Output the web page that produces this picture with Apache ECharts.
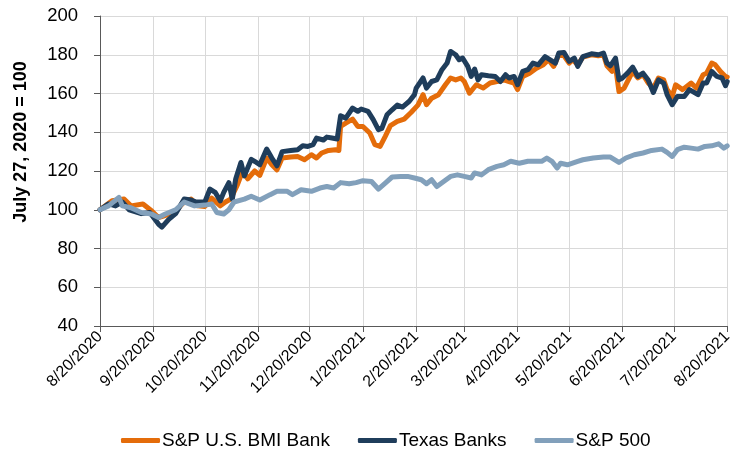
<!DOCTYPE html>
<html>
<head>
<meta charset="utf-8">
<script src="https://cdn.jsdelivr.net/npm/echarts@6/dist/echarts.min.js"></script>
<style>
  html, body { margin: 0; padding: 0; background: #fff; }
  #chart { width: 735px; height: 461px; }
</style>
</head>
<body>
<div id="chart"></div>
<script>
// days counted from 8/20/2020, values indexed to 100
const bankDays = [0, 7, 14, 18, 25, 30, 34, 38, 44, 49, 53, 57, 61, 65, 70, 73, 76, 80, 83, 86, 90, 93, 97, 100, 103, 106, 111, 115, 119, 123, 126, 129, 133, 137, 139, 140, 143, 147, 150, 153, 157, 160, 163, 166, 169, 173, 177, 181, 182, 185, 188, 190, 193, 197, 201, 204, 207, 210, 212, 215, 216, 219, 223, 227, 231, 235, 238, 241, 243, 246, 250, 254, 258, 261, 264, 267, 270, 273, 275, 278, 281, 286, 290, 293, 295, 298, 300, 302, 305, 308, 310, 313, 316, 319, 322, 325, 328, 330, 333, 335, 339, 344, 347, 351, 353, 356, 358, 361, 364, 365];
const bankVals = [100, 104.6, 105.5, 102, 103, 99.5, 96, 97, 99.5, 104, 105.5, 102, 101.7, 106, 102, 104, 105.5, 113, 120, 116, 120, 117.7, 126.7, 123.2, 120.6, 126.7, 127.2, 127.5, 125.8, 128.4, 126.7, 129.3, 130.6, 131, 130.6, 143, 144.7, 146.8, 143, 143, 139.6, 133.6, 132.7, 137.9, 143.4, 145.6, 146.8, 150.2, 150.8, 154, 159.4, 154.2, 157.6, 159.4, 164.5, 168, 167, 168, 166.2, 160.2, 159.4, 164.5, 162.8, 165.4, 166.2, 167, 166.2, 165.4, 162, 168.8, 170.5, 173, 174.8, 177.4, 174, 180, 179.5, 175.7, 177.4, 174.8, 178.8, 180, 179.5, 180, 174.3, 171.4, 174, 161, 162.8, 168, 171.4, 168, 169.7, 165.4, 162.8, 168, 167, 162, 158.5, 164.5, 162, 165.4, 162.8, 169.7, 170.5, 175.7, 174.8, 171.4, 168.8, 168.5];

const texasDays = [0, 5, 9, 13, 17, 24, 29, 34, 36, 40, 44, 49, 53, 56, 61, 64, 67, 70, 72, 75, 77, 79, 82, 84, 88, 91, 93, 97, 100, 103, 106, 111, 115, 118, 121, 124, 126, 130, 132, 135, 138, 140, 143, 147, 150, 152, 156, 159, 162, 164, 167, 170, 173, 176, 180, 183, 184, 188, 190, 193, 196, 199, 202, 204, 207, 209, 211, 214, 216, 218, 220, 222, 226, 230, 233, 236, 238, 241, 243, 246, 249, 252, 255, 259, 262, 265, 267, 270, 273, 276, 278, 281, 286, 290, 293, 295, 297, 300, 302, 304, 307, 310, 313, 316, 319, 322, 325, 328, 330, 333, 336, 340, 343, 345, 348, 351, 353, 356, 359, 362, 364, 365];
const texasVals = [100, 103, 102, 104, 100, 98, 98.6, 92.6, 91, 95, 98, 105.5, 105, 104, 104, 110.7, 109, 104.6, 109, 114, 105.5, 116, 124.4, 117.5, 126, 124.4, 123.2, 131.3, 126.7, 122.7, 130, 130.6, 131, 133, 132.7, 133.6, 137, 136, 137.5, 137, 136.5, 148.5, 147.3, 152.5, 150.8, 152, 150.8, 146.5, 141.3, 142, 149, 151.6, 154, 153, 156, 159.4, 162.8, 168, 162.8, 166.2, 167, 172.3, 175.7, 181.7, 180, 177.4, 178.3, 174, 168.8, 172.6, 167, 169.7, 169.2, 168.8, 166.2, 169.7, 168, 168.8, 164.5, 171.4, 172.3, 175.7, 174.8, 179, 177.4, 175.7, 180.9, 181.2, 176.6, 178.3, 174, 179, 180.5, 180, 180.9, 175.7, 174.3, 178.3, 167, 168, 170.5, 173.6, 168.8, 170.5, 167, 160.5, 167, 165.4, 159.4, 154.2, 158.5, 158.5, 162, 161, 159.4, 165.4, 165.4, 171.4, 168.8, 168, 164, 166.2];

const spxDays = [0, 5, 11, 13, 18, 24, 30, 34, 38, 44, 49, 55, 61, 65, 68, 72, 75, 78, 84, 88, 93, 99, 103, 109, 112, 117, 123, 128, 132, 136, 140, 145, 149, 153, 158, 162, 166, 170, 175, 179, 183, 187, 190, 193, 196, 200, 204, 208, 212, 216, 218, 222, 226, 231, 235, 239, 244, 249, 254, 257, 260, 263, 266, 268, 272, 278, 281, 287, 293, 297, 302, 306, 311, 316, 321, 327, 330, 333, 336, 340, 344, 348, 352, 356, 360, 363, 365];
const spxVals = [100, 102, 106.4, 102, 101, 98.6, 97.8, 96, 97.8, 100, 104, 102, 102.4, 103, 98.6, 97.8, 100, 104, 105.5, 107, 105, 107.8, 109.5, 109.5, 107.8, 110.3, 109.5, 111.2, 112, 111.2, 114, 113.4, 114, 115, 114.6, 110.7, 113.8, 116.9, 117.2, 117.2, 116.4, 115.5, 113.4, 115.5, 112, 114.6, 117.2, 118, 117.2, 116.4, 119, 118, 120.7, 122.4, 123.2, 125, 124, 125, 125, 125, 126.7, 125, 121.5, 124, 123.2, 125, 125.8, 126.7, 127.2, 127.2, 124.4, 126.7, 128.4, 129.3, 130.6, 131.3, 129.6, 127.5, 131, 132.3, 131.8, 131.3, 132.7, 133, 134, 131.8, 133];

const tickLabels = ['8/20/2020', '9/20/2020', '10/20/2020', '11/20/2020', '12/20/2020', '1/20/2021', '2/20/2021', '3/20/2021', '4/20/2021', '5/20/2021', '6/20/2021', '7/20/2021', '8/20/2021'];
const seriesNames = ['S&P U.S. BMI Bank', 'Texas Banks', 'S&P 500'];
const colors = ['#E46C0A', '#1F3D5B', '#82A0BB'];

const DAY = 86400000;
function parseDate(s) {
    const p = s.split('/').map(Number);
    return Date.UTC(p[2], p[0] - 1, p[1]);
}
const start = parseDate(tickLabels[0]);
function toPoints(days, vals) {
    return days.map((d, i) => [start + d * DAY, vals[i]]);
}
function fmt(v) {
    const d = new Date(v);
    return (d.getUTCMonth() + 1) + '/' + d.getUTCDate() + '/' + d.getUTCFullYear();
}

const tickTimes = tickLabels.map(parseDate);
const font = 'Liberation Sans, Arial, sans-serif';

const chart = echarts.init(document.getElementById('chart'));
const lines = [[bankDays, bankVals], [texasDays, texasVals], [spxDays, spxVals]];

chart.setOption({
    animation: false,
    color: colors,
    grid: { left: 100, right: 5, top: 16, bottom: 135, containLabel: false },
    legend: {
        top: 426,
        left: 116,
        icon: 'roundRect',
        itemWidth: 39,
        itemHeight: 5,
        itemGap: 28,
        textStyle: { fontFamily: font, fontSize: 19, color: '#000', padding: [0, 0, 0, -3] },
        data: seriesNames
    },
    xAxis: {
        type: 'value',
        min: tickTimes[0],
        max: tickTimes[tickTimes.length - 1],
        axisLine: { show: true, lineStyle: { color: '#595959', width: 1 } },
        axisTick: { show: true, length: 6, customValues: tickTimes, lineStyle: { color: '#595959' } },
        axisLabel: {
            customValues: tickTimes,
            rotate: 45,
            margin: 8,
            formatter: fmt,
            fontFamily: font,
            fontSize: 16,
            color: '#000'
        },
        splitLine: { show: true, lineStyle: { color: '#D9D9D9', width: 1 } }
    },
    yAxis: {
        type: 'value',
        min: 40,
        max: 200,
        interval: 20,
        name: 'July 27, 2020 = 100',
        nameLocation: 'middle',
        nameGap: 70,
        nameTextStyle: { fontFamily: font, fontSize: 18, fontWeight: 'bold', color: '#000', padding: [0, 0, 0, 58] },
        axisLine: { show: true, lineStyle: { color: '#595959', width: 1 } },
        axisTick: { show: true, length: 6, lineStyle: { color: '#595959' } },
        axisLabel: { fontFamily: font, fontSize: 18.5, color: '#000', margin: 22 },
        splitLine: { show: true, lineStyle: { color: '#D9D9D9', width: 1 } }
    },
    series: lines.map((l, i) => ({
        name: seriesNames[i],
        type: 'line',
        data: toPoints(l[0], l[1]),
        showSymbol: false,
        lineStyle: { width: 5, color: colors[i], join: 'round', cap: 'round' },
        itemStyle: { color: colors[i] }
    }))
});
</script>
</body>
</html>
